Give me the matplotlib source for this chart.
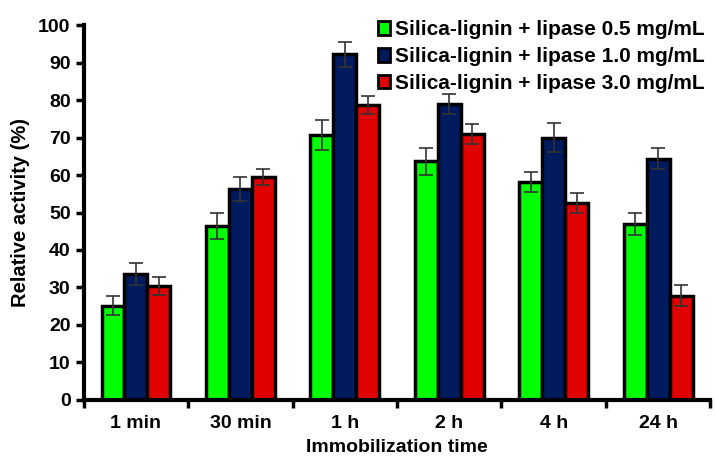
import numpy as np
import matplotlib
matplotlib.use("Agg")
import matplotlib.pyplot as plt
from matplotlib.patches import Patch

# data
times = ["1 min", "30 min", "1 h", "2 h", "4 h", "24 h"]
series = ["Silica-lignin + lipase 0.5 mg/mL",
          "Silica-lignin + lipase 1.0 mg/mL",
          "Silica-lignin + lipase 3.0 mg/mL"]
act_05 = [25.1, 46.3, 70.7, 63.7, 58.2, 47.0]
act_10 = [33.6, 56.3, 92.2, 78.9, 70.0, 64.3]
act_30 = [30.4, 59.5, 78.8, 70.9, 52.5, 27.8]
err_05 = [2.5, 3.5, 4.0, 3.6, 2.6, 3.0]
err_10 = [3.0, 3.2, 3.4, 2.6, 3.8, 2.8]
err_30 = [2.3, 2.2, 2.4, 2.6, 2.6, 2.8]
colors = ["#00ff00", "#001a5e", "#e00000"]

plt.rcParams.update({
    "font.family": "Liberation Sans", "font.weight": "bold",
    "axes.labelweight": "bold", "font.size": 14,
})

fig = plt.figure(figsize=(7.16, 4.57), dpi=100)
ax = fig.add_axes([0.117, 0.125, 0.875, 0.82])

x = np.arange(len(times))
w = 0.22
for i, (vals, errs, c) in enumerate(zip([act_05, act_10, act_30],
                                        [err_05, err_10, err_30], colors)):
    ax.bar(x + (i - 1) * w, vals, w, color=c, edgecolor="black", linewidth=2.5,
           yerr=errs, capsize=5,
           error_kw={"ecolor": "#333333", "elinewidth": 1.2, "capthick": 1.2})

ax.set_xlim(-0.5, len(times) - 0.5)
ax.set_ylim(0, 100)
ax.set_yticks(range(0, 101, 10))
ax.set_xticks(np.arange(len(times) + 1) - 0.5)
ax.set_xticklabels([])
ax.set_xticks(x, minor=True)
ax.set_xticklabels(times, minor=True)
ax.tick_params(axis="x", which="minor", length=0, pad=11, labelsize=14)
ax.tick_params(axis="both", which="major", direction="out", length=6, width=2.5,
               labelsize=14)

for s in ["top", "right"]:
    ax.spines[s].set_visible(False)
for s in ["left", "bottom"]:
    ax.spines[s].set_linewidth(3)

ax.set_xlabel("Immobilization time", fontsize=14)
ax.xaxis.set_label_coords(0.5, -0.105, transform=ax.transAxes)
ax.xaxis.label.set_verticalalignment("top")
ax.set_ylabel("Relative activity (%)", fontsize=14.5, labelpad=6)

handles = [Patch(facecolor=c, edgecolor="black", linewidth=2) for c in colors]
ax.legend(handles, series, loc="upper right", bbox_to_anchor=(1.005, 1.035),
          frameon=False, handlelength=0.6, handleheight=0.6, handletextpad=0.25,
          labelspacing=0.38, borderaxespad=0, prop={"weight": "bold", "size": 15})

fig.savefig("out.png", dpi=100)
